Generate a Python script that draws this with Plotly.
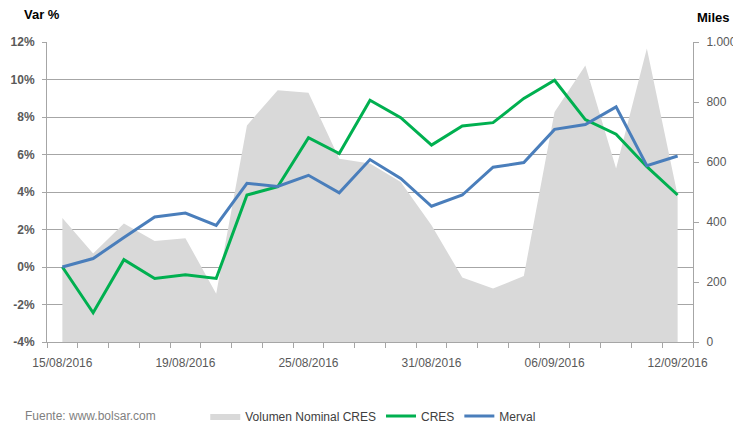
import plotly.graph_objects as go

dates = ["15/08/2016", "16/08/2016", "17/08/2016", "18/08/2016", "19/08/2016",
         "22/08/2016", "23/08/2016", "24/08/2016", "25/08/2016", "26/08/2016",
         "29/08/2016", "30/08/2016", "31/08/2016", "01/09/2016", "02/09/2016",
         "05/09/2016", "06/09/2016", "07/09/2016", "08/09/2016", "09/09/2016",
         "12/09/2016"]
cres = [0.0, -2.44, 0.39, -0.61, -0.41, -0.61, 3.84, 4.28, 6.9, 6.05, 8.89,
        7.96, 6.5, 7.52, 7.7, 8.99, 9.96, 7.86, 7.08, 5.35, 3.84]
merval = [0.0, 0.45, 1.57, 2.67, 2.88, 2.22, 4.46, 4.3, 4.89, 3.96, 5.73,
          4.72, 3.24, 3.84, 5.32, 5.57, 7.34, 7.6, 8.54, 5.4, 5.92]
volumen = [413, 295, 395, 337, 346, 161, 722, 839, 831, 611, 595,
           533, 389, 215, 178, 220, 767, 922, 578, 978, 489]

left_ticks = [-4, -2, 0, 2, 4, 6, 8, 10, 12]
left_text = ["-4%", "-2%", "0%", "2%", "4%", "6%", "8%", "10%", "12%"]
right_ticks = [0, 200, 400, 600, 800, 1000]
right_text = ["0", "200", "400", "600", "800", "1.000"]
label_idx = [0, 4, 8, 12, 16, 20]

idx = list(range(len(dates)))
FONT = "Liberation Sans"
GRAY = "#595959"
AX = "#a6a6a6"

fig = go.Figure()
fig.add_trace(go.Scatter(
    x=idx, y=volumen, name="Volumen Nominal CRES", mode="lines",
    line=dict(width=0, color="#d9d9d9"), fill="tozeroy", fillcolor="#d9d9d9",
    yaxis="y"))
fig.add_trace(go.Scatter(
    x=idx, y=cres, name="CRES", mode="lines",
    line=dict(width=3, color="#00b050"), yaxis="y2"))
fig.add_trace(go.Scatter(
    x=idx, y=merval, name="Merval", mode="lines",
    line=dict(width=3, color="#4a7ebb"), yaxis="y2"))

# page body adds an 8px offset, so the figure is drawn 8px smaller
fig.update_layout(
    width=733, height=418,
    margin=dict(l=39, r=48, t=34, b=84, autoexpand=False),
    paper_bgcolor="white", plot_bgcolor="white",
    font=dict(family=FONT, size=12, color=GRAY),
    showlegend=True,
    legend=dict(orientation="h", x=0.245, xanchor="left", y=-0.247, yanchor="middle",
                font=dict(size=12, color="#404040"), itemwidth=30,
                tracegroupgap=0),
    xaxis=dict(
        range=[-0.5, len(dates) - 0.5], showgrid=False, zeroline=False,
        showline=True, linecolor=AX, linewidth=1, automargin=False,
        tickmode="array", tickvals=[idx[i] for i in label_idx],
        ticktext=[dates[i] for i in label_idx],
        ticks="outside", ticklen=10, tickcolor="rgba(0,0,0,0)",
        tickfont=dict(size=12, color=GRAY),
        minor=dict(tickmode="linear", tick0=-0.5, dtick=1, ticks="outside",
                   ticklen=5, tickcolor=AX, showgrid=False),
    ),
    yaxis=dict(
        side="right", range=[0, 1000], showgrid=False, zeroline=False,
        showline=True, linecolor=AX, linewidth=1, automargin=False,
        tickmode="array", tickvals=right_ticks, ticktext=right_text,
        ticks="outside", ticklen=5, tickcolor=AX, ticklabelstandoff=5,
        tickfont=dict(size=12, color=GRAY),
    ),
    yaxis2=dict(
        side="left", overlaying="y", range=[-4, 12], showgrid=True,
        gridcolor=AX, gridwidth=1, zeroline=False,
        showline=True, linecolor=AX, linewidth=1, automargin=False,
        tickmode="array", tickvals=left_ticks, ticktext=left_text,
        ticks="outside", ticklen=4, tickcolor=AX, ticklabelstandoff=5,
        tickfont=dict(size=12, color=GRAY, weight="bold"),
    ),
    annotations=[
        dict(text="<b>Var %</b>", xref="paper", yref="paper", x=-0.0387, y=1.09,
             xanchor="left", yanchor="middle", showarrow=False,
             font=dict(size=13, color="black")),
        dict(text="<b>Miles</b>", xref="paper", yref="paper", x=1.003, y=1.083,
             xanchor="left", yanchor="middle", showarrow=False,
             font=dict(size=13, color="black")),
        dict(text="Fuente: www.bolsar.com", xref="paper", yref="paper",
             x=-0.0364, y=-0.247, xanchor="left", yanchor="middle", showarrow=False,
             font=dict(size=12, color="#7f7f7f")),
    ],
)

fig.write_html("out.html")
